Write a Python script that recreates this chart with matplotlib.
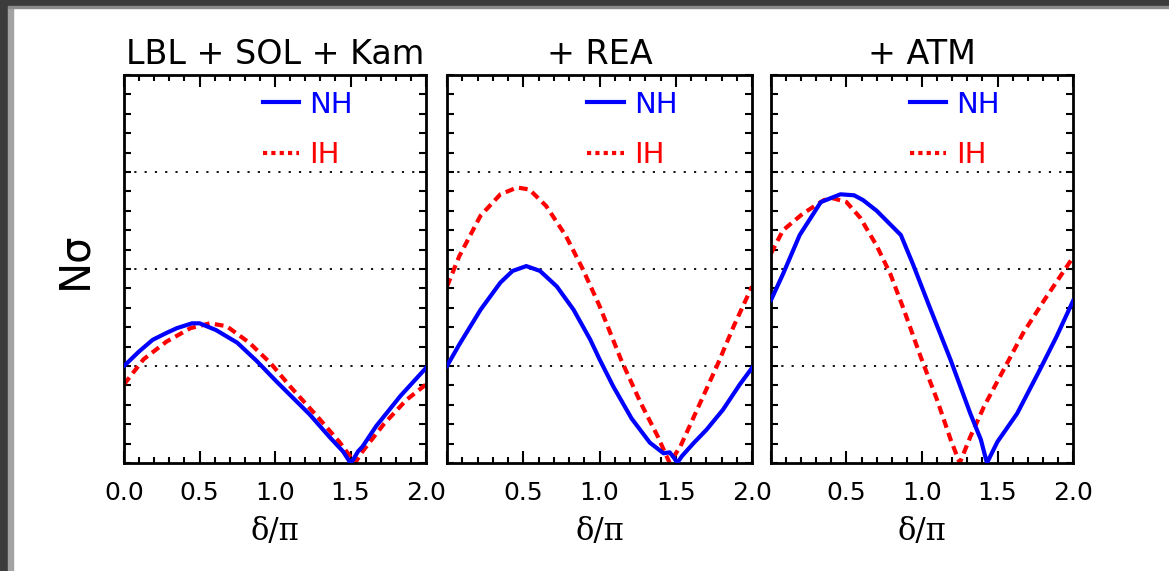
import matplotlib
matplotlib.use("Agg")
import matplotlib.pyplot as plt
from matplotlib.ticker import MultipleLocator, FixedLocator, FixedFormatter
from matplotlib.lines import Line2D
from matplotlib.patches import Rectangle

# Panel titles
titles = ["LBL + SOL + Kam", "+ REA", "+ ATM"]

# Panel 1: LBL + SOL + Kam
p1_nh_x = [0.0, 0.10, 0.19, 0.28, 0.35, 0.45, 0.50, 0.61, 0.75, 0.88, 1.01, 1.23, 1.36, 1.45, 1.50, 1.52, 1.55, 1.58, 1.67, 1.83, 2.0]
p1_nh_y = [1.0, 1.15, 1.27, 1.34, 1.39, 1.44, 1.44, 1.37, 1.24, 1.05, 0.84, 0.50, 0.27, 0.12, 0.0, 0.04, 0.12, 0.17, 0.38, 0.69, 0.98]
p1_ih_x = [0.0, 0.13, 0.28, 0.44, 0.57, 0.68, 0.83, 0.97, 1.10, 1.28, 1.43, 1.53, 1.58, 1.72, 1.87, 2.0]
p1_ih_y = [0.81, 1.07, 1.25, 1.39, 1.44, 1.41, 1.24, 1.03, 0.79, 0.48, 0.21, 0.0, 0.12, 0.40, 0.65, 0.81]

# Panel 2: + REA
p2_nh_x = [0.0, 0.08, 0.22, 0.35, 0.43, 0.52, 0.61, 0.72, 0.83, 0.94, 1.0, 1.09, 1.21, 1.33, 1.42, 1.46, 1.49, 1.51, 1.54, 1.62, 1.70, 1.81, 1.92, 2.0]
p2_nh_y = [1.0, 1.22, 1.58, 1.86, 1.98, 2.03, 1.98, 1.82, 1.58, 1.27, 1.07, 0.79, 0.46, 0.21, 0.10, 0.11, 0.05, 0.0, 0.07, 0.21, 0.34, 0.55, 0.81, 0.98]
p2_ih_x = [0.0, 0.08, 0.22, 0.35, 0.46, 0.54, 0.65, 0.78, 0.89, 1.0, 1.14, 1.27, 1.38, 1.46, 1.53, 1.64, 1.77, 1.88, 2.0]
p2_ih_y = [1.82, 2.13, 2.55, 2.77, 2.84, 2.82, 2.65, 2.34, 2.0, 1.62, 1.07, 0.62, 0.28, 0.0, 0.17, 0.55, 1.0, 1.41, 1.82]

# Panel 3: + ATM
p3_nh_x = [0.0, 0.08, 0.19, 0.33, 0.46, 0.55, 0.61, 0.70, 0.86, 0.94, 1.05, 1.19, 1.32, 1.39, 1.43, 1.50, 1.63, 1.78, 1.89, 2.0]
p3_nh_y = [1.68, 1.95, 2.35, 2.69, 2.77, 2.76, 2.71, 2.60, 2.35, 2.05, 1.61, 1.06, 0.51, 0.24, 0.0, 0.22, 0.51, 0.96, 1.30, 1.67]
p3_ih_x = [0.0, 0.08, 0.21, 0.35, 0.41, 0.50, 0.59, 0.70, 0.79, 0.88, 0.99, 1.10, 1.19, 1.25, 1.32, 1.41, 1.54, 1.67, 1.81, 2.0]
p3_ih_y = [2.16, 2.40, 2.57, 2.71, 2.73, 2.69, 2.53, 2.24, 1.95, 1.58, 1.10, 0.65, 0.24, 0.0, 0.27, 0.58, 0.96, 1.34, 1.68, 2.12]

panels = [
    (p1_nh_x, p1_nh_y, p1_ih_x, p1_ih_y),
    (p2_nh_x, p2_nh_y, p2_ih_x, p2_ih_y),
    (p3_nh_x, p3_nh_y, p3_ih_x, p3_ih_y),
]

x_ticks = [0.0, 0.5, 1.0, 1.5, 2.0]
x_labels_first = ["0.0", "0.5", "1.0", "1.5", "2.0"]
x_labels_rest = ["", "0.5", "1.0", "1.5", "2.0"]
grid_levels = [1, 2, 3]

W, H = 1169, 571
fig = plt.figure(figsize=(W / 100, H / 100), dpi=100)
fig.patch.set_facecolor("white")

# slide-like frame on top and left
fig.patches.append(Rectangle((0, 0), 8 / W, 1, transform=fig.transFigure, color="#3c3c3c", zorder=0))
fig.patches.append(Rectangle((8 / W, 0), 5 / W, 1 - 7 / H, transform=fig.transFigure, color="#a3a3a3", zorder=0))
fig.patches.append(Rectangle((0, 1 - 6 / H), 1, 6 / H, transform=fig.transFigure, color="#3c3c3c", zorder=0))
fig.patches.append(Rectangle((8 / W, 1 - 8 / H), 1, 2 / H, transform=fig.transFigure, color="#8c8c8c", zorder=0))

lefts = [124, 447, 771]
widths = [302, 305, 302]
bottom, top = 463, 75

blue = "#0000ff"
red = "#ff0000"

for i, (nh_x, nh_y, ih_x, ih_y) in enumerate(panels):
    ax = fig.add_axes([lefts[i] / W, (H - bottom) / H, widths[i] / W, (bottom - top) / H])
    ax.set_xlim(0, 2)
    ax.set_ylim(0, 4)

    for g in grid_levels:
        ax.axhline(g, color="black", lw=1.3, linestyle=(0, (1.2, 4.5)), zorder=1)

    ax.plot(nh_x, nh_y, color=blue, lw=3, solid_joinstyle="round", zorder=3)
    ax.plot(ih_x, ih_y, color=red, lw=3, dashes=(2.1, 1.3), zorder=2)

    ax.xaxis.set_major_locator(FixedLocator(x_ticks))
    ax.xaxis.set_major_formatter(FixedFormatter(x_labels_first if i == 0 else x_labels_rest))
    ax.xaxis.set_minor_locator(MultipleLocator(0.1))
    ax.yaxis.set_major_locator(MultipleLocator(0.2))
    ax.yaxis.set_major_formatter(FixedFormatter([]))
    ax.tick_params(axis="x", which="major", direction="in", length=8.5, width=1.5,
                   top=True, bottom=True, labelsize=18, pad=13)
    ax.tick_params(axis="x", which="minor", direction="in", length=4, width=1.5,
                   top=True, bottom=True)
    ax.tick_params(axis="y", which="major", direction="in", length=5, width=1.5,
                   left=True, right=True, labelleft=False)
    for s in ax.spines.values():
        s.set_linewidth(2)

    ax.set_xlabel("δ/π", fontsize=22, family="DejaVu Serif", labelpad=8)
    ax.set_title(titles[i], fontsize=24, pad=8)

    handles = [
        Line2D([], [], color=blue, lw=3),
        Line2D([], [], color=red, lw=3, dashes=(1.0, 1.0)),
    ]
    ax.legend(handles, ["NH", "IH"], loc="upper left", bbox_to_anchor=(0.46, 0.96),
              frameon=False, fontsize=21, handlelength=1.25, handletextpad=0.35,
              labelspacing=0.78, borderpad=0, borderaxespad=0, labelcolor="linecolor")

fig.text(74.5 / W, (H - 260) / H, "Nσ", rotation=90, fontsize=30, ha="center", va="center")

fig.savefig("out.png", dpi=100)
